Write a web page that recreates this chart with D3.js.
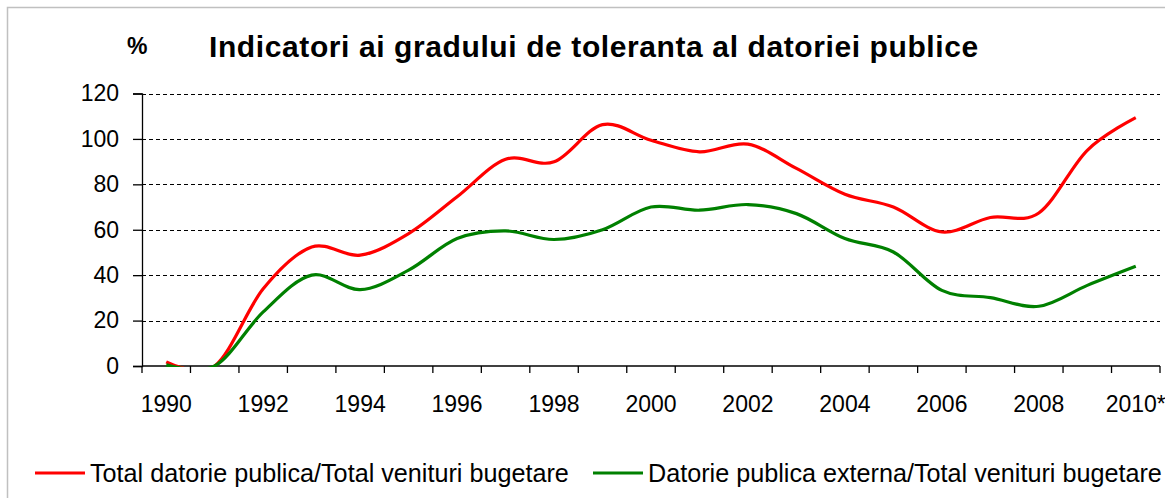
<!DOCTYPE html>
<html>
<head>
<meta charset="utf-8">
<script src="https://cdn.jsdelivr.net/npm/d3@7"></script>
<style>
  body { margin: 0; background: #fff; }
  svg text { font-family: Arial, "Liberation Sans", sans-serif; fill: #000; }
</style>
</head>
<body>
<script>
// data
var years = ["1990", "1991", "1992", "1993", "1994", "1995", "1996", "1997", "1998", "1999", "2000",
             "2001", "2002", "2003", "2004", "2005", "2006", "2007", "2008", "2009", "2010*"];
var totalDebt = [1.8, 0, 34, 52.4, 48.8, 58.3, 74.5, 91, 89.9, 106.3, 99.4,
                 94.3, 97.7, 87, 75.6, 70, 59, 65.4, 67.4, 95, 109.4];
var externalDebt = [0.5, 0, 23.8, 40, 33.6, 42.2, 56.1, 59.5, 55.7, 60, 70,
                    68.6, 71.1, 67.1, 56.1, 50.2, 33.3, 30.1, 26.3, 35.5, 43.9];
var yTicks = [0, 20, 40, 60, 80, 100, 120];
var seriesNames = ["Total datorie publica/Total venituri bugetare",
                   "Datorie publica externa/Total venituri bugetare"];
var seriesColors = ["#ff0000", "#008000"];

var W = 1165, H = 498;
var plot = {left: 142, right: 1160, top: 93.5, bottom: 366};

var svg = d3.select('body').append('svg')
  .attr('width', W).attr('height', H);

// frame
svg.append('rect')
  .attr('x', 7.5).attr('y', 7.5)
  .attr('width', W + 20).attr('height', H + 20)
  .attr('fill', 'none').attr('stroke', '#c0c0c0').attr('stroke-width', 1.5);

var x = d3.scaleBand().domain(years).range([plot.left, plot.right]);
var y = d3.scaleLinear().domain([0, 120]).range([plot.bottom, plot.top]);

// title and unit
svg.append('text')
  .attr('x', 209).attr('y', 57)
  .style('font-size', '30px').style('font-weight', 'bold')
  .style('letter-spacing', '0.6px')
  .text('Indicatori ai gradului de toleranta al datoriei publice');
svg.append('text')
  .attr('x', 127).attr('y', 54)
  .style('font-size', '23px').style('font-weight', 'bold')
  .text('%');

// gridlines
svg.append('g').selectAll('line')
  .data(yTicks.filter(function(d) { return d > 0; }))
  .enter().append('line')
  .attr('x1', plot.left).attr('x2', plot.right)
  .attr('y1', function(d) { return Math.round(y(d)) + 0.5; })
  .attr('y2', function(d) { return Math.round(y(d)) + 0.5; })
  .attr('stroke', '#000').attr('stroke-width', 1.2)
  .attr('stroke-dasharray', '4,3');

// y axis
var yAxis = svg.append('g')
  .attr('transform', 'translate(' + plot.left + ',0)')
  .call(d3.axisLeft(y).tickValues(yTicks).tickSize(9).tickPadding(14));
yAxis.selectAll('text').style('font-size', '23px');
yAxis.selectAll('line, path').attr('stroke', '#000').attr('stroke-width', 1.3);

// x axis: ticks between categories, labels on every other year
var bounds = years.map(function(d) { return x(d); }).concat([plot.right]);
var xAxis = svg.append('g');
xAxis.append('line')
  .attr('x1', plot.left).attr('x2', plot.right)
  .attr('y1', plot.bottom).attr('y2', plot.bottom)
  .attr('stroke', '#000').attr('stroke-width', 1.3);
xAxis.selectAll('.tk').data(bounds).enter().append('line')
  .attr('class', 'tk')
  .attr('x1', function(d) { return d; }).attr('x2', function(d) { return d; })
  .attr('y1', plot.bottom).attr('y2', plot.bottom + 7)
  .attr('stroke', '#000').attr('stroke-width', 1.3);
xAxis.selectAll('.lb').data(years.filter(function(d, i) { return i % 2 == 0; }))
  .enter().append('text')
  .attr('class', 'lb')
  .attr('x', function(d) { return x(d) + x.bandwidth() / 2; })
  .attr('y', 412)
  .attr('text-anchor', 'middle')
  .style('font-size', '23px')
  .text(function(d) { return d; });

// lines
svg.append('clipPath').attr('id', 'clip')
  .append('rect')
  .attr('x', plot.left).attr('y', 0)
  .attr('width', plot.right - plot.left).attr('height', plot.bottom + 1);

var line = d3.line()
  .x(function(d, i) { return x(years[i]) + x.bandwidth() / 2; })
  .y(function(d) { return y(d); })
  .curve(d3.curveCardinal);

[totalDebt, externalDebt].forEach(function(s, k) {
  svg.append('path')
    .attr('clip-path', 'url(#clip)')
    .attr('d', line(s))
    .attr('fill', 'none')
    .attr('stroke', seriesColors[k])
    .attr('stroke-width', 3.2)
    .attr('stroke-linejoin', 'round');
});

// legend
var legendX = [35, 593];
seriesNames.forEach(function(name, k) {
  var g = svg.append('g').attr('transform', 'translate(' + legendX[k] + ',473)');
  g.append('line')
    .attr('x1', 0).attr('x2', 50)
    .attr('stroke', seriesColors[k]).attr('stroke-width', 3.2);
  g.append('text')
    .attr('x', 55).attr('y', 0).attr('dy', '0.35em')
    .style('font-size', '25.2px')
    .text(name);
});
</script>
</body>
</html>
